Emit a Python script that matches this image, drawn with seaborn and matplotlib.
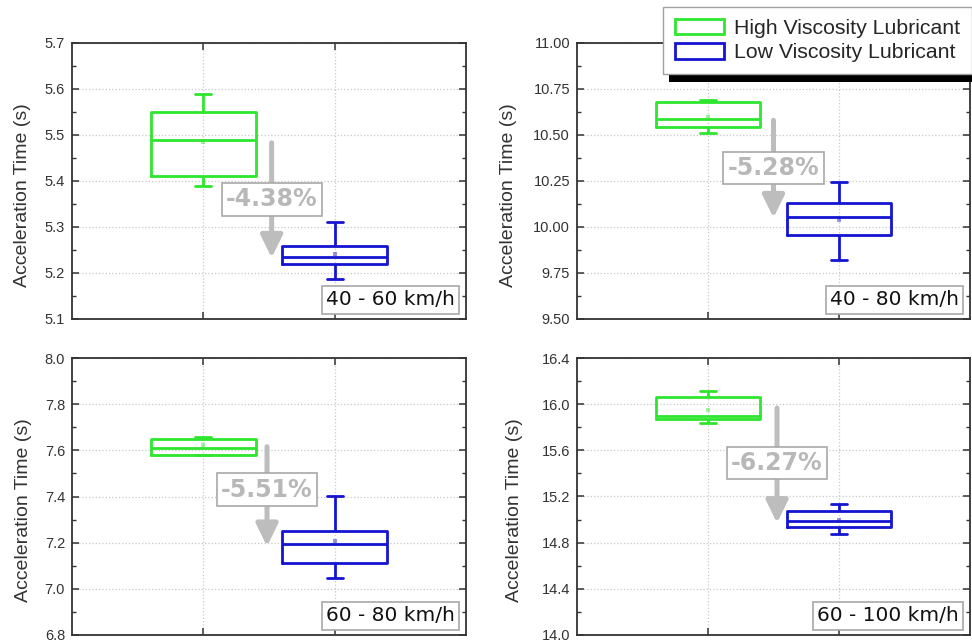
import numpy as np
import pandas as pd
import matplotlib
matplotlib.use("Agg")
import matplotlib.pyplot as plt
import seaborn as sns
from matplotlib.patches import Patch, Rectangle
from matplotlib.ticker import MultipleLocator, FormatStrFormatter

# ---------------- data ----------------
lubricants = ["High Viscosity Lubricant", "Low Viscosity Lubricant"]
speed_ranges = ["40 - 60 km/h", "40 - 80 km/h", "60 - 80 km/h", "60 - 100 km/h"]
pct_changes = ["-4.38%", "-5.28%", "-5.51%", "-6.27%"]

high_whisker_low = [5.39, 10.51, 7.58, 15.84]
high_q1 = [5.41, 10.543, 7.58, 15.87]
high_median = [5.49, 10.589, 7.61, 15.90]
high_q3 = [5.55, 10.678, 7.649, 16.06]
high_whisker_high = [5.59, 10.69, 7.658, 16.117]
high_mean = [5.485, 10.60, 7.623, 15.95]

low_whisker_low = [5.188, 9.819, 7.049, 14.877]
low_q1 = [5.22, 9.957, 7.11, 14.934]
low_median = [5.234, 10.054, 7.196, 14.99]
low_q3 = [5.259, 10.129, 7.249, 15.073]
low_whisker_high = [5.31, 10.246, 7.401, 15.135]
low_mean = [5.241, 10.038, 7.207, 15.0]

y_limits = [(5.1, 5.7), (9.5, 11.0), (6.8, 8.0), (14.0, 16.4)]
y_steps = [0.1, 0.25, 0.2, 0.4]
y_formats = ["%.1f", "%.2f", "%.1f", "%.1f"]

# annotation layout (arrow x, arrow start/end y, label y)
arrow_x = [0.52, 0.50, 0.485, 0.527]
arrow_y0 = [5.483, 10.58, 7.616, 15.967]
arrow_y1 = [5.233, 10.05, 7.184, 14.97]
label_y = [5.36, 10.32, 7.43, 15.49]
ylabel_x = [-0.105, -0.152, -0.102, -0.137]

GREEN = "#2ee62e"
BLUE = "#1414d2"
palette = {lubricants[0]: GREEN, lubricants[1]: BLUE}

# ---------------- style ----------------
sns.set_theme(style="white")
plt.rcParams["font.family"] = ["Liberation Sans", "DejaVu Sans"]
plt.rcParams["axes.edgecolor"] = "#333333"
plt.rcParams["xtick.color"] = "#333333"
plt.rcParams["ytick.color"] = "#333333"

fig = plt.figure(figsize=(9.72, 6.41), dpi=100)

W, H = 972.0, 641.0
rects = [
    (72 / W, 1 - 319 / H, 394 / W, 276 / H),
    (577 / W, 1 - 319 / H, 393 / W, 276 / H),
    (72 / W, 1 - 635 / H, 394 / W, 277 / H),
    (577 / W, 1 - 635 / H, 393 / W, 277 / H),
]

for i in range(4):
    ax = fig.add_axes(rects[i])
    rows = []
    for lub, stats in [
        (lubricants[0], [high_whisker_low[i], high_q1[i], high_median[i], high_q3[i], high_whisker_high[i]]),
        (lubricants[1], [low_whisker_low[i], low_q1[i], low_median[i], low_q3[i], low_whisker_high[i]]),
    ]:
        for v in stats:
            rows.append({"lubricant": lub, "time": v})
    df = pd.DataFrame(rows)
    sns.boxplot(
        data=df, x="lubricant", y="time", hue="lubricant", order=lubricants,
        hue_order=lubricants, palette=palette, fill=False, whis=(0, 100),
        width=0.8, linewidth=2.0, capwidths=0.12, legend=False, ax=ax,
    )
    dm = pd.DataFrame({"lubricant": lubricants, "mean": [high_mean[i], low_mean[i]]})
    sns.stripplot(
        data=dm, x="lubricant", y="mean", hue="lubricant", order=lubricants,
        hue_order=lubricants, palette=palette, jitter=False, marker="s", size=2.5,
        alpha=0.45, legend=False, ax=ax,
    )

    ax.set_xlim(-1, 2)
    ax.set_ylim(*y_limits[i])
    ax.yaxis.set_major_locator(MultipleLocator(y_steps[i]))
    ax.yaxis.set_minor_locator(MultipleLocator(y_steps[i] / 2))
    ax.yaxis.set_major_formatter(FormatStrFormatter(y_formats[i]))
    ax.set_xticks([0, 1])
    ax.set_xticklabels([])
    ax.set_xlabel("")
    ax.set_ylabel("Acceleration Time (s)", fontsize=14, color="#333333")
    ax.yaxis.set_label_coords(ylabel_x[i], 0.45)
    ax.tick_params(axis="both", which="major", direction="in", length=5, width=1.1,
                   top=True, right=True, bottom=True, left=True, labelsize=10.5, pad=5)
    ax.tick_params(axis="y", which="minor", direction="in", length=3, width=1.0,
                   left=True, right=True)
    ax.grid(True, which="major", linestyle=":", color="#c8c8c8", linewidth=0.9)
    for sp in ax.spines.values():
        sp.set_linewidth(1.3)
        sp.set_color("#333333")

    ax.annotate(
        "", xy=(arrow_x[i], arrow_y1[i]), xytext=(arrow_x[i], arrow_y0[i]),
        arrowprops=dict(arrowstyle="-|>,head_length=0.45,head_width=0.22",
                        color="#bdbdbd", lw=3.6, mutation_scale=30,
                        shrinkA=0, shrinkB=0, capstyle="round"),
        zorder=3,
    )
    ax.text(arrow_x[i], label_y[i], pct_changes[i], ha="center", va="center",
            fontsize=17, fontweight="bold", color="#b8b8b8", family="DejaVu Sans",
            bbox=dict(boxstyle="square,pad=0.18", fc="white", ec="#a8a8a8", lw=1.2),
            zorder=4)
    ax.text(0.972, 0.035, speed_ranges[i], ha="right", va="bottom",
            transform=ax.transAxes, fontsize=14.5, color="#111111", family="DejaVu Sans",
            bbox=dict(boxstyle="square,pad=0.22", fc="white", ec="#a8a8a8", lw=1.2),
            zorder=5)

handles = [Patch(facecolor="white", edgecolor=GREEN, linewidth=2, label=lubricants[0]),
           Patch(facecolor="white", edgecolor=BLUE, linewidth=2, label=lubricants[1])]
leg = fig.legend(handles=handles, loc="upper left", bbox_to_anchor=(663 / W, 1 - 7 / H),
                 fontsize=15.3, frameon=True, fancybox=False, framealpha=1,
                 edgecolor="#a0a0a0", handlelength=2.3, handleheight=0.75,
                 labelspacing=0.25, borderpad=0.55, handletextpad=0.5, borderaxespad=0)
leg.get_frame().set_linewidth(1.0)
leg.set_zorder(10)

fig.canvas.draw()
bb = leg.get_frame().get_window_extent()
shadow = Rectangle(((bb.x0 + 6) / W, (bb.y0 - 8) / H), bb.width / W, bb.height / H,
                   transform=fig.transFigure, facecolor="black", edgecolor="none", zorder=9)
fig.add_artist(shadow)

fig.savefig("out.png", dpi=100)
